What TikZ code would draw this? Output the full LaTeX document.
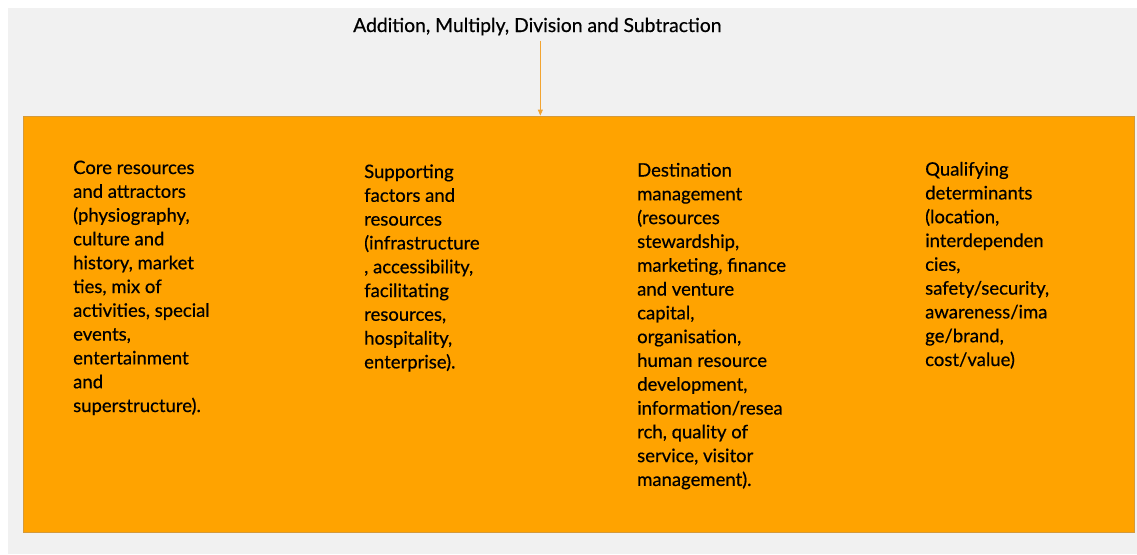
\documentclass[tikz,border=0pt]{standalone}
\usepackage{fontspec}
\setmainfont{Lato}
\newfontfamily\textface{Lato}[FakeBold=0.5]
\usetikzlibrary{arrows.meta}
\definecolor{panelfill}{HTML}{FFA300}
\definecolor{paneledge}{HTML}{D49A3C}
\definecolor{pagegray}{HTML}{F1F1F1}
\definecolor{linkcol}{HTML}{F2A431}
\begin{document}
\begin{tikzpicture}[x=1pt,y=-1pt,
  bodyfont/.style={font=\textface\fontsize{18.5}{23.8}\selectfont},
  % anchored at the baseline of the last line
  coltext/.style={bodyfont, anchor=base west, align=left, inner sep=0pt, text=black},
  panelbox/.style={draw=paneledge, line width=0.8pt, fill=panelfill, minimum width=1111pt, minimum height=416pt, inner sep=0pt},
  link/.style={draw=linkcol, line width=0.8pt, -{Triangle[length=6pt,width=5pt]}},
]
\useasboundingbox (0,0) rectangle (1137,554);
% grey page area
\fill[pagegray] (8,8) rectangle (1137,554);

% the orange panel holding the four groups of factors
\node[panelbox] (panel) at (578.5,324) {};

% heading and its link into the panel
\node[font=\textface\fontsize{19.3}{23.8}\selectfont, anchor=base west, inner sep=0pt] (title) at (353,32) {Addition, Multiply, Division and Subtraction};
\draw[link] ([xshift=3pt,yshift=-5pt]title.south) -- ([xshift=3pt]title.south |- panel.north);

% four columns of factors
\node[coltext] (core) at (73,412) {Core resources\\and attractors\\(physiography,\\culture and\\history, market\\ties, mix of\\activities, special\\events,\\entertainment\\and\\superstructure).};
\node[coltext] (support) at (364,368.4) {Supporting\\factors and\\resources\\(infrastructure\\, accessibility,\\facilitating\\resources,\\hospitality,\\enterprise).};
\node[coltext] (dest) at (637,485.9) {Destination\\management\\(resources\\stewardship,\\marketing, finance\\and venture\\capital,\\organisation,\\human resource\\development,\\information/resea\\rch, quality of\\service, visitor\\management).};
\node[coltext] (qual) at (925,366) {Qualifying\\determinants\\(location,\\interdependen\\cies,\\safety/security,\\awareness/ima\\ge/brand,\\cost/value)};
\end{tikzpicture}
\end{document}
